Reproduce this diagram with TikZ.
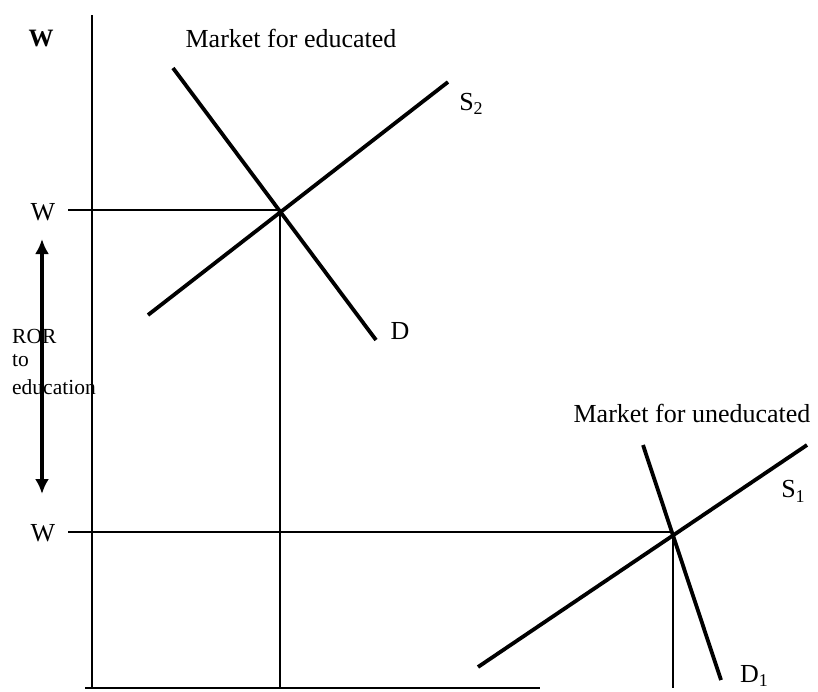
\documentclass[tikz,border=0pt]{standalone}
\usepackage{fontspec}
\setmainfont{Liberation Serif}
\usetikzlibrary{arrows.meta}
\newcommand{\mysub}[1]{\raisebox{-0.4ex}{\fontsize{18}{20}\selectfont #1}}
\begin{document}
\begin{tikzpicture}[x=1pt,y=-1pt,
  axisline/.style={line width=2.8pt},
  curve/.style={line width=3.8pt},
  guide/.style={line width=1.4pt},
  lbl/.style={inner sep=0pt,font=\fontsize{26}{30}\selectfont},
  smalllbl/.style={inner sep=0pt,anchor=west,font=\fontsize{21.5}{24}\selectfont},
  tip/.style={-{Latex[length=15pt,width=14pt]}}]
\useasboundingbox (0,0) rectangle (818,691);
% axes
\coordinate (ytop) at (92,15);
\coordinate (origin) at (92,688);
\coordinate (xleft) at (85,688);
\coordinate (xright) at (540,688);
\draw[axisline] (ytop) -- (origin);
\draw[axisline] (xleft) -- (xright);
% educated market
\coordinate (Dtop) at (173,68);
\coordinate (Dbot) at (376,340);
\coordinate (Sbot) at (148,315);
\coordinate (Stop) at (448,82);
\coordinate (E2) at (280,210);
\coordinate (W2left) at (68,210);
\coordinate (E2foot) at (280,688);
\draw[guide] (W2left) -- (E2);
\draw[guide] (E2) -- (E2foot);
\draw[curve] (Dtop) -- (Dbot);
\draw[curve] (Sbot) -- (Stop);
% uneducated market
\coordinate (D1top) at (643,445);
\coordinate (D1bot) at (721,680);
\coordinate (S1bot) at (478,667);
\coordinate (S1top) at (807,445);
\coordinate (E1) at (673,532);
\coordinate (W1left) at (68,532);
\coordinate (E1foot) at (673,688);
\draw[guide] (W1left) -- (E1);
\draw[guide] (E1) -- (E1foot);
\draw[curve] (D1top) -- (D1bot);
\draw[curve] (S1bot) -- (S1top);
% ROR arrow
\coordinate (arrmid) at (42,366);
\coordinate (arrtop) at (42,239);
\coordinate (arrbot) at (42,494);
\draw[line width=3.6pt,tip] (arrmid) -- (arrtop);
\draw[line width=3.6pt,tip] (arrmid) -- (arrbot);
% labels
\node[lbl,font=\fontsize{25}{30}\selectfont\bfseries] (Wtop) at (41,39) {W};
\node[lbl] (mkted) at (291,38) {Market for educated};
\node[lbl] (Wmid) at (43,212) {W};
\node[lbl] (Wlow) at (43,533) {W};
\node[lbl] (S2lbl) at (471,104) {S\mysub{2}};
\node[lbl] (Dlbl) at (400,331) {D};
\node[lbl] (mktun) at (692,413) {Market for uneducated};
\node[lbl] (S1lbl) at (793,491) {S\mysub{1}};
\node[lbl] (D1lbl) at (754,676) {D\mysub{1}};
\node[smalllbl] (ror) at (12,336) {ROR};
\node[smalllbl] (to) at (12,361) {to};
\node[smalllbl] (edu) at (12,387) {education};
\end{tikzpicture}
\end{document}
